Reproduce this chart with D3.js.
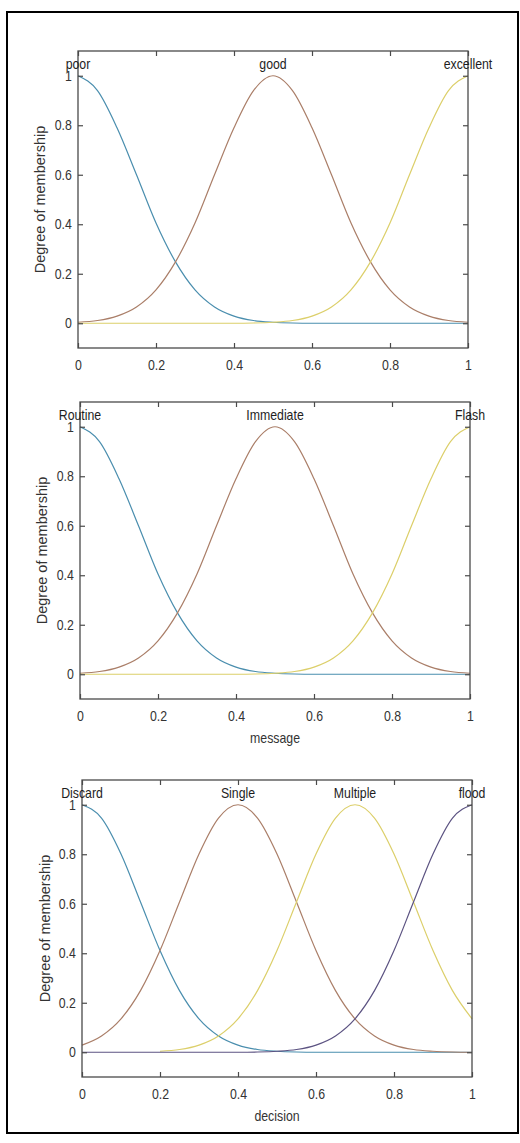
<!DOCTYPE html>
<html>
<head>
<meta charset="utf-8">
<script src="https://cdn.jsdelivr.net/npm/d3@7"></script>
<style>
  body { margin: 0; background: #fff; }
  text { font-family: "Liberation Sans", Arial, sans-serif; }
</style>
</head>
<body>
<div class="chart"></div>
<script>
// sample positions on the x axis (0 .. 1)
var xSamples = [0, 0.05, 0.1, 0.15, 0.2, 0.25, 0.3, 0.35, 0.4, 0.45, 0.5,
                0.55, 0.6, 0.65, 0.7, 0.75, 0.8, 0.85, 0.9, 0.95, 1];
var xTicks = [0, 0.2, 0.4, 0.6, 0.8, 1];
var yTicks = [0, 0.2, 0.4, 0.6, 0.8, 1];

// panel 1
var qualityNames = ["poor", "good", "excellent"];
var qualityPoor = [1, 0.94, 0.79, 0.6, 0.405, 0.248, 0.135, 0.066, 0.029, 0.011, 0.004,
                   0.001, 0, 0, 0, 0, 0, 0, 0, 0, 0];
var qualityGood = [0.004, 0.011, 0.029, 0.066, 0.135, 0.248, 0.405, 0.6, 0.79, 0.94, 1,
                   0.94, 0.79, 0.6, 0.405, 0.248, 0.135, 0.066, 0.029, 0.011, 0.004];
var qualityExcellent = [0, 0, 0, 0, 0, 0, 0, 0, 0, 0.001, 0.004,
                        0.011, 0.029, 0.066, 0.135, 0.248, 0.405, 0.6, 0.79, 0.94, 1];

// panel 2
var messageNames = ["Routine", "Immediate", "Flash"];
var messageRoutine = [1, 0.94, 0.79, 0.6, 0.405, 0.248, 0.135, 0.066, 0.029, 0.011, 0.004,
                      0.001, 0, 0, 0, 0, 0, 0, 0, 0, 0];
var messageImmediate = [0.004, 0.011, 0.029, 0.066, 0.135, 0.248, 0.405, 0.6, 0.79, 0.94, 1,
                        0.94, 0.79, 0.6, 0.405, 0.248, 0.135, 0.066, 0.029, 0.011, 0.004];
var messageFlash = [0, 0, 0, 0, 0, 0, 0, 0, 0, 0.001, 0.004,
                    0.011, 0.029, 0.066, 0.135, 0.248, 0.405, 0.6, 0.79, 0.94, 1];

// panel 3
var decisionNames = ["Discard", "Single", "Multiple", "flood"];
var decisionNamePos = [0, 0.4, 0.7, 1];
var decisionDiscard = [1, 0.946, 0.801, 0.607, 0.411, 0.249, 0.135, 0.066, 0.029, 0.011, 0.004,
                       0.001, 0, 0, 0, 0, 0, 0, 0, 0, 0];
var decisionSingle = [0.029, 0.066, 0.135, 0.249, 0.411, 0.607, 0.801, 0.946, 1, 0.946, 0.801,
                      0.607, 0.411, 0.249, 0.135, 0.066, 0.029, 0.011, 0.004, 0.001, 0];
var decisionMultiple = [null, null, null, null, 0.004, 0.011, 0.029, 0.066, 0.135, 0.249, 0.411,
                        0.607, 0.801, 0.946, 1, 0.946, 0.801, 0.607, 0.411, 0.249, 0.135];
var decisionFlood = [0, 0, 0, 0, 0, 0, 0, 0, 0, 0.001, 0.004,
                     0.011, 0.029, 0.066, 0.135, 0.249, 0.411, 0.607, 0.801, 0.946, 1];

var lineColors = ["#4a8eae", "#aa7e68", "#dccf6a", "#5c5382"];

var svg = d3.select(".chart")
    .append("svg")
    .attr("width", 520)
    .attr("height", 1143);

// outer frame
svg.append("rect")
    .attr("x", 7).attr("y", 12)
    .attr("width", 511).attr("height", 1121)
    .attr("fill", "none")
    .attr("stroke", "#000")
    .attr("stroke-width", 2);

var squeeze = "scale(0.88,1)";

function drawPanel(p) {
    var width = 390, height = 297;
    var g = svg.append("g").attr("transform", `translate(${p.left}, ${p.top})`);

    var x = d3.scaleLinear().domain([0, 1]).range([0, width]);
    var y = d3.scaleLinear().domain([-0.1, 1.1]).range([height, 0]);

    // curves
    var line = d3.line()
        .defined(d => d[1] !== null)
        .x(d => x(d[0]))
        .y(d => y(d[1]))
        .curve(d3.curveMonotoneX);

    p.series.forEach(function (s, i) {
        g.append("path")
            .datum(xSamples.map((v, j) => [v, s[j]]))
            .attr("d", line)
            .attr("fill", "none")
            .attr("stroke", lineColors[i])
            .attr("stroke-width", 1.2);
    });

    // axes, ticks pointing inward
    var bottom = g.append("g")
        .attr("transform", `translate(0, ${height})`)
        .call(d3.axisBottom(x).tickValues(xTicks).tickSize(-5).tickPadding(12).tickFormat(d => d));
    var left = g.append("g")
        .call(d3.axisLeft(y).tickValues(yTicks).tickSize(-5).tickPadding(7).tickFormat(d => d));
    g.append("g")
        .call(d3.axisTop(x).tickValues(xTicks).tickSize(-5).tickFormat(""));
    g.append("g")
        .attr("transform", `translate(${width}, 0)`)
        .call(d3.axisRight(y).tickValues(yTicks).tickSize(-5).tickFormat(""));

    g.selectAll(".domain").remove();
    g.selectAll(".tick line").attr("stroke", "#4a4a4a").attr("stroke-width", 1.2);
    [bottom, left].forEach(function (a) {
        a.selectAll("text")
            .attr("transform", squeeze)
            .attr("font-size", 14)
            .attr("fill", "#333");
    });

    g.append("rect")
        .attr("width", width).attr("height", height)
        .attr("fill", "none")
        .attr("stroke", "#4a4a4a")
        .attr("stroke-width", 1.3);

    // membership function names
    p.names.forEach(function (n, i) {
        g.append("text")
            .attr("transform", `translate(${x(p.namePos[i])}, ${y(1) - 7}) ${squeeze}`)
            .attr("text-anchor", "middle")
            .attr("font-size", 14)
            .attr("fill", "#1e1e1e")
            .text(n);
    });

    // y label
    g.append("text")
        .attr("transform", `translate(${p.ylabelX - p.left + 5}, ${height / 2}) rotate(-90)`)
        .attr("text-anchor", "middle")
        .attr("font-size", 14.5)
        .attr("fill", "#333")
        .text("Degree of membership");

    if (p.xlabel) {
        g.append("text")
            .attr("transform", `translate(${width / 2}, ${height + 44}) ${squeeze}`)
            .attr("text-anchor", "middle")
            .attr("font-size", 14)
            .attr("fill", "#333")
            .text(p.xlabel);
    }
}

drawPanel({
    left: 78, top: 51, names: qualityNames, namePos: [0, 0.5, 1],
    series: [qualityPoor, qualityGood, qualityExcellent], ylabelX: 40, xlabel: null
});
drawPanel({
    left: 80, top: 402, names: messageNames, namePos: [0, 0.5, 1],
    series: [messageRoutine, messageImmediate, messageFlash], ylabelX: 42, xlabel: "message"
});
drawPanel({
    left: 82, top: 780, names: decisionNames, namePos: decisionNamePos,
    series: [decisionDiscard, decisionSingle, decisionMultiple, decisionFlood], ylabelX: 45, xlabel: "decision"
});
</script>
</body>
</html>
